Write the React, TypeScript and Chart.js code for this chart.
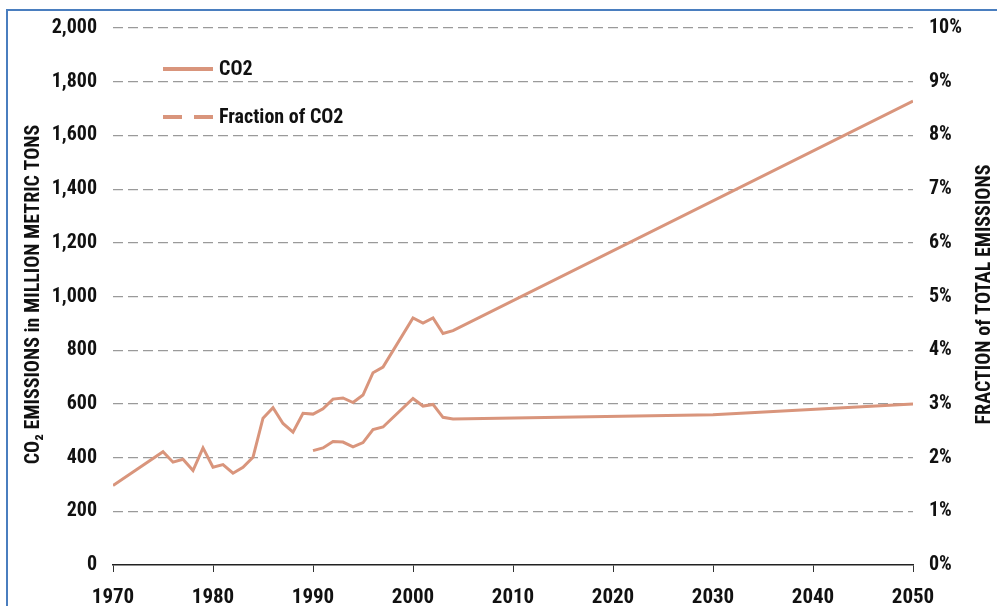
import React, { useEffect, useRef } from "react";
import { Chart, registerables } from "chart.js";

Chart.register(...registerables);

const co2Years = [1970, 1975, 1976, 1977, 1978, 1979, 1980, 1981, 1982, 1983, 1984, 1985, 1986, 1987, 1988, 1989, 1990, 1991, 1992, 1993, 1994, 1995, 1996, 1997, 2000, 2001, 2002, 2003, 2004, 2050];
const co2Values = [296, 422, 383, 394, 352, 436, 364, 374, 342, 364, 401, 547, 586, 527, 495, 565, 562, 582, 618, 622, 605, 633, 716, 737, 920, 901, 920, 862, 873, 1728];

const fractionYears = [1990, 1991, 1992, 1993, 1994, 1995, 1996, 1997, 2000, 2001, 2002, 2003, 2004, 2030, 2050];
const fractionValues = [2.13, 2.18, 2.3, 2.29, 2.2, 2.28, 2.52, 2.57, 3.1, 2.96, 2.99, 2.75, 2.72, 2.8, 3.0];

const leftTitle = "CO\u2082 EMISSIONS in MILLION METRIC TONS";
const rightTitle = "FRACTION of TOTAL EMISSIONS";
const legendLabels = ["CO2", "Fraction of CO2"];

const LINE = "#d9957c";
const FONT = '"Roboto Condensed", "Liberation Sans Narrow", "DejaVu Sans Condensed", sans-serif';

const overlayPlugin = {
  id: "overlay",
  afterDraw(chart: any) {
    const ctx = chart.ctx;
    const area = chart.chartArea;
    ctx.save();
    // legend
    ctx.lineWidth = 4;
    ctx.strokeStyle = LINE;
    ctx.setLineDash([]);
    ctx.beginPath();
    ctx.moveTo(163, 69);
    ctx.lineTo(213, 69);
    ctx.stroke();
    ctx.setLineDash([19, 12]);
    ctx.beginPath();
    ctx.moveTo(163, 117);
    ctx.lineTo(213, 117);
    ctx.stroke();
    ctx.setLineDash([]);
    ctx.fillStyle = "#111";
    ctx.font = "bold 20px " + FONT;
    ctx.textBaseline = "middle";
    ctx.textAlign = "left";
    ctx.fillText(legendLabels[0], 219, 70);
    ctx.fillText(legendLabels[1], 219, 118);
    // axis titles
    const cy = (area.top + area.bottom) / 2 - 2;
    ctx.font = "bold 20px " + FONT;
    ctx.textAlign = "center";
    ctx.translate(34, cy);
    ctx.rotate(-Math.PI / 2);
    ctx.fillText(leftTitle, 0, 0);
    ctx.rotate(Math.PI / 2);
    ctx.translate(-34, -cy);
    ctx.translate(985, cy);
    ctx.rotate(-Math.PI / 2);
    ctx.fillText(rightTitle, 0, 0);
    ctx.restore();
  },
};

export default function App() {
  const ref = useRef<HTMLCanvasElement | null>(null);
  useEffect(() => {
    if (!ref.current) return;
    const tickFont = { family: FONT, size: 20, weight: "bold" as const };
    const xTickFont = { family: FONT, size: 21, weight: "bold" as const };
    const chart = new Chart(ref.current, {
      type: "line",
      data: {
        datasets: [
          {
            label: legendLabels[0],
            data: co2Years.map((x, i) => ({ x, y: co2Values[i] })),
            borderColor: LINE,
            borderWidth: 3,
            pointRadius: 0,
            tension: 0,
            yAxisID: "y",
          },
          {
            label: legendLabels[1],
            data: fractionYears.map((x, i) => ({ x, y: fractionValues[i] })),
            borderColor: LINE,
            borderWidth: 3,
            pointRadius: 0,
            tension: 0,
            yAxisID: "y1",
          },
        ],
      },
      plugins: [overlayPlugin],
      options: {
        animation: false,
        responsive: false,
        devicePixelRatio: 1,
        layout: { padding: { top: 25, left: 0, right: 0, bottom: 0 } },
        plugins: { legend: { display: false }, tooltip: { enabled: false } },
        scales: {
          x: {
            type: "linear",
            min: 1970,
            max: 2050,
            afterFit: (s: any) => { s.height = 41; },
            ticks: { stepSize: 10, font: xTickFont, color: "#111", padding: 13, callback: (v: any) => String(v) },
            grid: { display: true, drawOnChartArea: false, drawTicks: true, tickLength: 7, color: "#333" },
            border: { display: true, color: "#222", width: 1.5 },
          },
          y: {
            position: "left",
            min: 0,
            max: 2000,
            afterFit: (s: any) => { s.width = 113; },
            ticks: { stepSize: 200, font: tickFont, color: "#111", padding: 16 },
            grid: {
              drawTicks: false,
              color: (c: any) => (c.tick && c.tick.value === 0 ? "rgba(0,0,0,0)" : "#9a9a9a"),
              lineWidth: 1.2,
            },
            border: { display: false, dash: [10, 5] },
          },
          y1: {
            position: "right",
            min: 0,
            max: 10,
            afterFit: (s: any) => { s.width = 84; },
            ticks: { stepSize: 1, font: tickFont, color: "#111", padding: 16, callback: (v: any) => v + "%" },
            grid: { display: false, drawTicks: false },
            border: { display: false },
          },
        },
      },
    });
    return () => chart.destroy();
  }, []);
  return (
    <div style={{ position: "fixed", left: 0, top: 0, width: 997, height: 606, overflow: "hidden", background: "#fff" }}>
      <canvas ref={ref} width={997} height={606} style={{ position: "absolute", left: 0, top: 0 }} />
      <div
        style={{
          position: "absolute",
          left: 6,
          top: 9,
          width: 1000,
          height: 700,
          border: "2px solid #4a7ebf",
          pointerEvents: "none",
        }}
      />
    </div>
  );
}
